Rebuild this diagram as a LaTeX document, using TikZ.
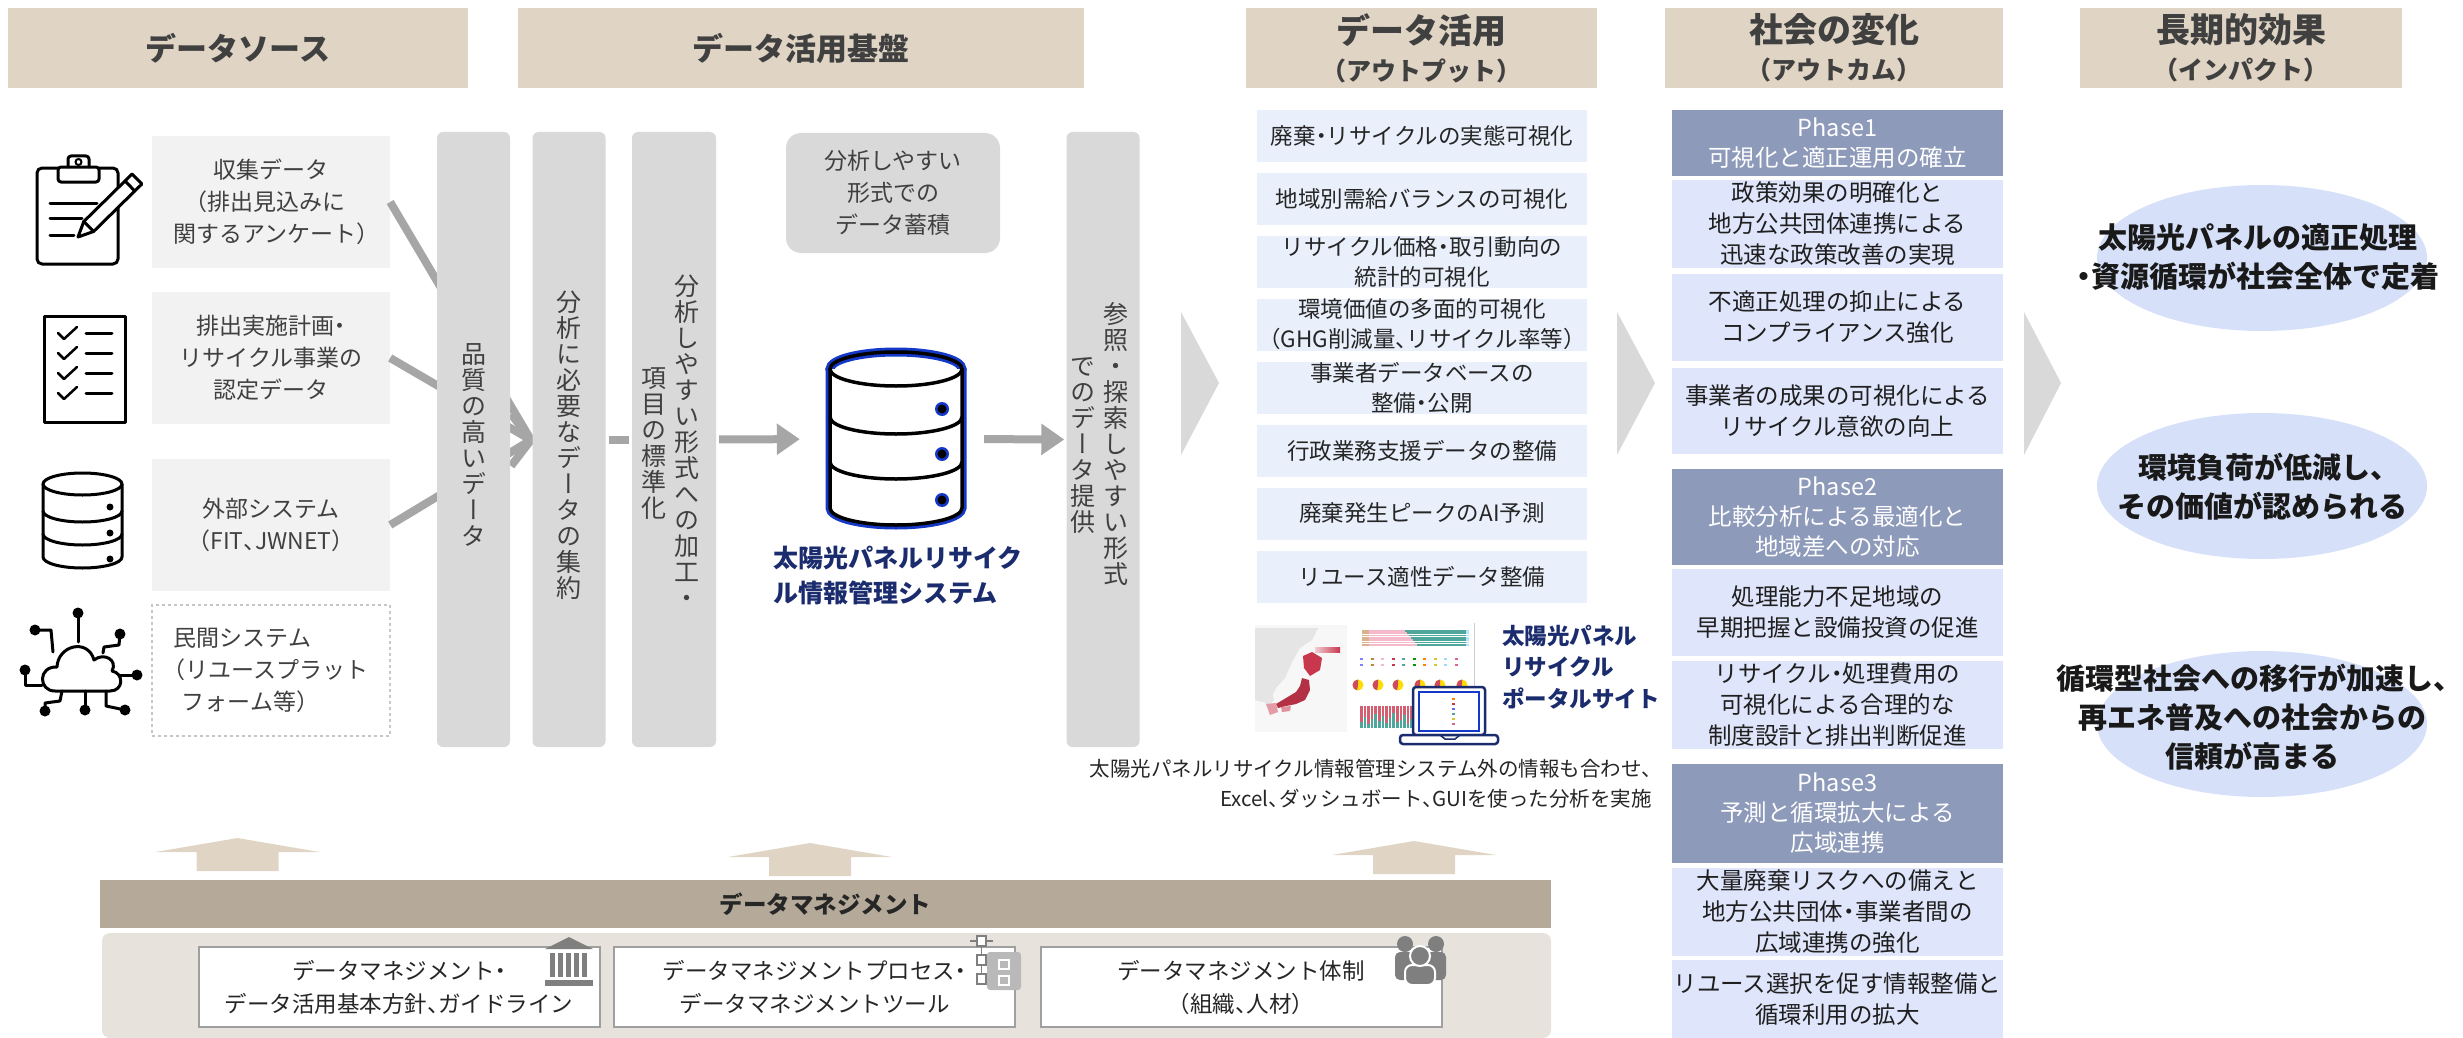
\documentclass[tikz,border=0pt]{standalone}
\usepackage{fontspec}
\usepackage{tikz}
\usetikzlibrary{arrows.meta,shapes.geometric}
\setmainfont[RawFeature=+halt]{Noto Sans CJK JP}
\newfontfamily\tatefont[RawFeature=+vert]{Noto Sans CJK JP}

\definecolor{hdbeige}{HTML}{E0D5C4}
\definecolor{txtgray}{HTML}{404040}
\definecolor{srcgray}{HTML}{F2F2F2}
\definecolor{bargray}{HTML}{D9D9D9}
\definecolor{linegray}{HTML}{A6A6A6}
\definecolor{outblue}{HTML}{E9EFFB}
\definecolor{phasehd}{HTML}{8E9ABA}
\definecolor{phasebd}{HTML}{DFE5FA}
\definecolor{impblue}{HTML}{D6E0F8}
\definecolor{navy}{HTML}{1B2C6E}
\definecolor{dbblue}{HTML}{1438C8}
\definecolor{mgbar}{HTML}{B5AA99}
\definecolor{mgpanel}{HTML}{E7E3DC}
\definecolor{icongray}{HTML}{7F7F7F}
\definecolor{jpred}{HTML}{C8374D}
\definecolor{pinkbar}{HTML}{F4BACB}
\definecolor{tealbar}{HTML}{4FA69A}

% stack the characters of a word one above the other (tategaki)
\makeatletter
\newcommand\tate[1]{\tate@first#1\@nil}
\def\tate@first#1{#1\tate@rest}
\def\tate@rest#1{\ifx#1\@nil\else\\#1\expandafter\tate@rest\fi}
\makeatother

\begin{document}
\begin{tikzpicture}[x=1pt, y=-1pt,
	header/.style={fill=hdbeige, text=txtgray, minimum height=80pt, inner sep=0pt, align=center, font=\bfseries\fontsize{31}{37}\selectfont},
	srcbox/.style={fill=srcgray, text=txtgray, minimum width=238pt, inner sep=0pt, align=center, font=\fontsize{23}{32}\selectfont},
	databar/.style={fill=bargray, rounded corners=6pt, minimum width=73pt, minimum height=615pt, inner sep=0pt},
	tatetext/.style={text=txtgray, inner sep=0pt, align=center, font=\tatefont\fontsize{25}{26}\selectfont},
	storebox/.style={fill=bargray, rounded corners=15pt, minimum width=214pt, minimum height=120pt, inner sep=0pt, text=txtgray, align=center, font=\fontsize{23}{32}\selectfont},
	flow/.style={draw=linegray, line width=8pt},
	flowarrow/.style={flow, -{Triangle[length=23pt,width=30pt]}},
	chevron/.style={fill=bargray},
	outbox/.style={fill=outblue, minimum width=330pt, minimum height=52pt, inner sep=0pt, align=center, text=black!85, font=\fontsize{22.5}{30}\selectfont},
	phasehead/.style={fill=phasehd, text=white, minimum width=331pt, inner sep=0pt, align=center, font=\fontsize{23.5}{30}\selectfont},
	phasebody/.style={fill=phasebd, text=black!88, minimum width=331pt, inner sep=0pt, align=center, font=\fontsize{23.5}{31}\selectfont},
	impact/.style={ellipse, fill=impblue, minimum width=330pt, minimum height=146pt, inner sep=0pt},
	impacttext/.style={inner sep=0pt, align=center, text=black!90, font=\bfseries\fontsize{29}{39}\selectfont},
	mgbox/.style={draw=gray!75, line width=2pt, fill=white, minimum width=401pt, minimum height=80pt, inner sep=0pt, align=center, text=black!85, font=\fontsize{22.5}{33}\selectfont},
	iconline/.style={draw=black, line width=3pt, line join=round, line cap=round},
	]
	\useasboundingbox (0,0) rectangle (2463,1038);

	% column headers
	\node[header, minimum width=460pt] (hd1) at (238,48) {データソース};
	\node[header, minimum width=566pt] (hd2) at (801,48) {データ活用基盤};
	\node[header, minimum width=351pt] (hd3) at (1421.5,48) {{\fontsize{34}{38}\selectfont データ活用}\\{\fontsize{25}{28}\selectfont （アウトプット）}};
	\node[header, minimum width=338pt] (hd4) at (1834,48) {{\fontsize{34}{38}\selectfont 社会の変化}\\{\fontsize{25}{28}\selectfont （アウトカム）}};
	\node[header, minimum width=322pt] (hd5) at (2241,48) {{\fontsize{34}{38}\selectfont 長期的効果}\\{\fontsize{25}{28}\selectfont （インパクト）}};

	% data sources
	\node[srcbox, minimum height=132pt] (src1) at (271,202) {収集データ\\（排出見込みに\\関するアンケート）};
	\node[srcbox, minimum height=132pt] (src2) at (271,358) {排出実施計画・\\リサイクル事業の\\認定データ};
	\node[srcbox, minimum height=132pt] (src3) at (271,525) {外部システム\\（FIT、JWNET）};
	\node[srcbox, minimum height=131pt, fill=white, draw=gray!45, dashed, line width=2pt, align=left] (src4) at (271,670.5) {民間システム\\（リユースプラット\\\hspace{8pt}フォーム等）};

	% clipboard
	\draw[iconline, rounded corners=5pt] (58,168) -- (37,168) -- (37,264) -- (118,264) -- (118,168) -- (99,168);
	\draw[iconline, rounded corners=3pt] (58,182) rectangle (99,167);
	\draw[iconline, rounded corners=3pt] (68,167) -- (68,156) -- (89,156) -- (89,167);
	\draw[iconline, line width=2pt] (78.5,162) circle (3);
	\draw[iconline] (50,203) -- (97,203);
	\draw[iconline] (50,218) -- (82,218);
	\draw[iconline] (50,235) -- (74,235);
	\draw[iconline, fill=white] (78,237) -- (93.6,231.5) -- (141.9,184) -- (132.1,174) -- (83.8,221.5) -- cycle;
	\draw[iconline] (93.6,231.5) -- (83.8,221.5);
	\draw[iconline] (134.8,191) -- (125,181);
	% checklist
	\draw[iconline] (44,316) rectangle (125,422);
	\foreach \yy in {333,353,373,393} {
		\draw[iconline, line width=2.5pt] (58,\yy) -- (64,\yy+6) -- (77,\yy-6);
		\draw[iconline] (86,\yy) -- (112,\yy);
	}
	% database
	\draw[iconline] (82.5,484) ellipse [x radius=39.5, y radius=11];
	\draw[iconline] (43,484) -- (43,557) arc [start angle=180, end angle=0, x radius=39.5, y radius=11] -- (122,484);
	\draw[iconline] (43,511) arc [start angle=180, end angle=0, x radius=39.5, y radius=11];
	\draw[iconline] (43,534) arc [start angle=180, end angle=0, x radius=39.5, y radius=11];
	\foreach \yy in {507,533,559} \fill (110,\yy) circle (3.5);
	% cloud network
	\draw[iconline, fill=white] (55,691) .. controls (38,691) and (38,666) .. (57,667) .. controls (58,645) and (88,638) .. (94,660) .. controls (104,652) and (118,660) .. (112,671) .. controls (124,673) and (124,691) .. (110,691) -- cycle;
	\draw[iconline] (78,613) -- (78,642);
	\draw[iconline] (35,630) -- (51,630) -- (53,652);
	\draw[iconline] (120,634) -- (119,645) -- (104,647) -- (103,653);
	\draw[iconline] (25,670) -- (25,685) -- (42,685);
	\draw[iconline] (120,675) -- (137,675);
	\draw[iconline] (45,711) -- (45,703) -- (60,701) -- (62,691);
	\draw[iconline] (85,691) -- (85,710);
	\draw[iconline] (106,691) -- (106,706) -- (125,710);
	\foreach \p in {(78,613),(35,630),(120,634),(25,670),(137,675),(45,711),(85,710),(125,710)}
		\fill \p circle (5.5);

	% sources merge into one stream
	\coordinate (merge) at (531,440);
	\draw[flow] (src1.east) -- (merge);
	\draw[flow] (src2.east) -- (merge);
	\draw[flow] (src3.east) -- (merge);
	\draw[flow, line join=miter] (merge) ++(-20,-26) -- (merge) -- ++(-20,26);

	% data platform
	\node[databar] (bar1) at (473.5,439.5) {};
	\node[databar] (bar2) at (569,439.5) {};
	\node[databar, minimum width=84pt] (bar3) at (674,439.5) {};
	\node[databar] (bar4) at (1103,439.5) {};
	\node[tatetext] (t1) at (473.5,445) {\tate{品質の高いデータ}};
	\node[tatetext] (t2) at (569,445) {\tate{分析に必要なデータの集約}};
	\node[tatetext] (t3a) at (687,441) {\tate{分析しやすい形式への加工・}};
	\node[tatetext] (t3b) at (654,444) {\tate{項目の標準化}};
	\node[tatetext] (t4a) at (1116,444) {\tate{参照・探索しやすい形式}};
	\node[tatetext] (t4b) at (1083,446) {\tate{でのデータ提供}};
	\node[storebox] (store) at (893,193) {分析しやすい\\形式での\\データ蓄積};

	% management system (database icon)
	\node[minimum width=132pt, minimum height=176pt, inner sep=0pt] (db) at (896,439) {};
	\foreach \c/\w in {dbblue/9, black/3.5} {
		\draw[draw=\c, line width=\w pt, fill=white] (830,369) -- (830,508) arc [start angle=180, end angle=0, x radius=66, y radius=17] -- (962,369);
		\draw[draw=\c, line width=\w pt] (896,369) ellipse [x radius=66, y radius=17];
		\draw[draw=\c, line width=\w pt] (830,417) arc [start angle=180, end angle=0, x radius=66, y radius=17];
		\draw[draw=\c, line width=\w pt] (830,462) arc [start angle=180, end angle=0, x radius=66, y radius=17];
	}
	\foreach \yy in {409,454,500} {
		\fill[dbblue] (942,\yy) circle (7);
		\fill[black] (942,\yy) circle (4.5);
	}
	\node[inner sep=0pt, align=left, text=navy, font=\bfseries\fontsize{25}{35}\selectfont] (dbname) at (898,576) {太陽光パネルリサイク\\ル情報管理システム};

	\draw[flow, shorten <=3pt, shorten >=3pt] (bar2.east) -- (bar3.west);
	\draw[flowarrow, shorten <=3pt, shorten >=30pt] (bar3.east) -- (db.west);
	\draw[flowarrow, shorten <=22pt, shorten >=2pt] (db.east) -- (bar4.west);

	% chevrons between stages
	\fill[chevron] (1181,312) -- (1219,383) -- (1181,455) -- cycle;
	\fill[chevron] (1617,312) -- (1655,383) -- (1617,455) -- cycle;
	\fill[chevron] (2024,312) -- (2061,383) -- (2024,455) -- cycle;

	% outputs
	\node[outbox] (out1) at (1422,136) {廃棄・リサイクルの実態可視化};
	\node[outbox] (out2) at (1422,198.5) {地域別需給バランスの可視化};
	\node[outbox] (out3) at (1422,261.5) {リサイクル価格・取引動向の\\統計的可視化};
	\node[outbox] (out4) at (1422,324.5) {環境価値の多面的可視化\\（GHG削減量、リサイクル率等）};
	\node[outbox] (out5) at (1422,387.5) {事業者データベースの\\整備・公開};
	\node[outbox] (out6) at (1422,451) {行政業務支援データの整備};
	\node[outbox] (out7) at (1422,513.5) {廃棄発生ピークのAI予測};
	\node[outbox] (out8) at (1422,576.5) {リユース適性データ整備};

	% portal screenshot: map
	\fill[gray!6] (1255,625) rectangle (1347,732);
	\fill[gray!20] (1255,628) -- (1318,628) -- (1312,640) -- (1300,648) -- (1292,662) -- (1285,678) -- (1276,688) -- (1270,700) -- (1262,702) -- (1255,700) -- cycle;
	\fill[gray!20] (1262,690) -- (1270,688) -- (1274,700) -- (1268,706) -- (1262,700) -- cycle;
	\fill[jpred] (1303,656) -- (1312,652) -- (1322,658) -- (1320,670) -- (1310,676) -- (1304,668) -- cycle;
	\fill[jpred!90!black] (1302,678) -- (1309,680) -- (1310,690) -- (1305,700) -- (1296,704) -- (1286,706) -- (1278,708) -- (1276,704) -- (1286,698) -- (1296,692) -- (1300,686) -- cycle;
	\fill[jpred!50] (1266,704) -- (1276,703) -- (1278,712) -- (1270,715) -- cycle;
	\fill[jpred!55] (1281,707) -- (1291,706) -- (1290,711) -- (1282,712) -- cycle;
	\shade[left color=jpred!25, right color=jpred] (1315,647) rectangle (1340,652);
	% portal screenshot: charts
	\draw[gray!40, line width=0.6pt] (1474,623) -- (1474,735);
	\foreach \i in {0,...,6} {
		\fill[brown!60] (1362,630+2.3*\i) rectangle +(7,1.7);
		\fill[pinkbar] (1369,630+2.3*\i) rectangle (1405+2*\i,631.7+2.3*\i);
		\fill[tealbar] (1405+2*\i,630+2.3*\i) rectangle (1466,631.7+2.3*\i);
		\fill[cyan!30] (1466,630+2.3*\i) rectangle (1469,631.7+2.3*\i);
	}
	\foreach \i/\c in {0/blue!50, 1/brown, 2/pinkbar, 3/jpred, 4/tealbar, 5/green!60!black, 6/orange, 7/yellow!80!black, 8/cyan!40, 9/purple!60} {
		\fill[\c] (1360+10.5*\i,658) rectangle +(3,2);
		\fill[\c] (1360+10.5*\i,664) rectangle +(3,2);
	}
	\foreach \cx in {1358,1378,1398,1420,1440,1462} {
		\fill[yellow!80!orange] (\cx,685) circle (5.5);
		\fill[jpred!90] (\cx,685) -- ++(0,-5.5) arc [start angle=270, end angle=100, radius=5.5] -- cycle;
	}
	\foreach \i/\h in {0/6, 1/11, 2/4, 3/9, 4/14, 5/7, 6/12, 7/5, 8/10, 9/15, 10/6, 11/8, 12/13, 13/4, 14/9, 15/11, 16/5, 17/8} {
		\fill[jpred!80] (1360+3.6*\i,706) rectangle +(2.6,22);
		\fill[tealbar] (1360+3.6*\i,728) rectangle +(2.6,-\h);
	}
	% laptop
	\fill[white] (1413,687) rectangle (1485,735);
	\draw[navy, line width=2.5pt, rounded corners=3pt] (1413,687) rectangle (1485,735);
	\draw[dbblue, line width=1.5pt] (1419,692) rectangle (1479,731);
	\foreach \i/\c in {0/orange, 1/jpred, 2/blue!60, 3/tealbar, 4/yellow!80!black, 5/purple!60} \fill[\c] (1452,698+5*\i) rectangle +(3,2);
	\draw[navy, line width=2.5pt, fill=white, rounded corners=3pt] (1400,735) rectangle (1498,744);
	\draw[navy, line width=1.5pt] (1440,735) -- (1445,739) -- (1455,739) -- (1460,735);
	\node[anchor=west, inner sep=0pt, align=left, text=navy, font=\bfseries\fontsize{22.5}{31.5}\selectfont] (portal) at (1502,667) {太陽光パネル\\リサイクル\\ポータルサイト};
	\node[anchor=north east, inner sep=0pt, align=right, text=black!85, font=\fontsize{20.5}{30}\selectfont] (note) at (1652,759) {太陽光パネルリサイクル情報管理システム外の情報も合わせ、\\Excel、ダッシュボート、GUIを使った分析を実施};

	% outcomes by phase
	\node[phasehead, minimum height=66pt] (p1h) at (1837.5,143) {Phase1\\可視化と適正運用の確立};
	\node[phasebody, minimum height=88pt] (p1a) at (1837.5,224) {政策効果の明確化と\\地方公共団体連携による\\迅速な政策改善の実現};
	\node[phasebody, minimum height=87pt] (p1b) at (1837.5,317.5) {不適正処理の抑止による\\コンプライアンス強化};
	\node[phasebody, minimum height=86pt] (p1c) at (1837.5,411) {事業者の成果の可視化による\\リサイクル意欲の向上};
	\node[phasehead, minimum height=96pt] (p2h) at (1837.5,517) {Phase2\\比較分析による最適化と\\地域差への対応};
	\node[phasebody, minimum height=87pt] (p2a) at (1837.5,612.5) {処理能力不足地域の\\早期把握と設備投資の促進};
	\node[phasebody, minimum height=88pt] (p2b) at (1837.5,705) {リサイクル・処理費用の\\可視化による合理的な\\制度設計と排出判断促進};
	\node[phasehead, minimum height=99pt] (p3h) at (1837.5,813.5) {Phase3\\予測と循環拡大による\\広域連携};
	\node[phasebody, minimum height=88pt] (p3a) at (1837.5,912) {大量廃棄リスクへの備えと\\地方公共団体・事業者間の\\広域連携の強化};
	\node[phasebody, minimum height=78pt] (p3b) at (1837.5,999) {リユース選択を促す情報整備と\\循環利用の拡大};

	% long-term impacts
	\node[impact] (imp1) at (2262,258) {};
	\node[impact] (imp2) at (2262,486) {};
	\node[impact] (imp3) at (2262,724) {};
	\node[impacttext] (imp1t) at (2258,257) {太陽光パネルの適正処理\\・資源循環が社会全体で定着};
	\node[impacttext] (imp2t) at (2262,487) {環境負荷が低減し、\\その価値が認められる};
	\node[impacttext] (imp3t) at (2252,717) {循環型社会への移行が加速し、\\再エネ普及への社会からの\\信頼が高まる};

	% data management foundation
	\foreach \cx/\ty in {237.5/838, 810/843, 1414/841}
		\fill[hdbeige] (\cx-82,\ty+14) -- (\cx,\ty) -- (\cx+82,\ty+14) -- (\cx+41,\ty+14) -- (\cx+41,\ty+33) -- (\cx-41,\ty+33) -- (\cx-41,\ty+14) -- cycle;
	\node[fill=mgbar, minimum width=1451pt, minimum height=48pt, inner sep=0pt, text=black!85, font=\bfseries\fontsize{23.5}{28}\selectfont] (mgmt) at (825.5,904) {データマネジメント};
	\node[fill=mgpanel, rounded corners=8pt, minimum width=1449pt, minimum height=105pt, inner sep=0pt] (mgpanel) at (826.5,985.5) {};
	\node[mgbox] (mg1) at (399,987) {データマネジメント・\\データ活用基本方針、ガイドライン};
	\node[mgbox] (mg2) at (814.5,987) {データマネジメントプロセス・\\データマネジメントツール};
	\node[mgbox] (mg3) at (1241,987) {データマネジメント体制\\（組織、人材）};

	% icons on the management boxes
	\fill[icongray] (545,949) -- (569,937) -- (593,949) -- cycle;
	\foreach \k in {0,...,4} \fill[icongray] (550+8*\k,953) rectangle +(5,24);
	\fill[icongray] (545,980) rectangle (593,986);
	\fill[gray!55, rounded corners=3pt] (987,952) rectangle (1021,990);
	\foreach \yy in {936,955,974} \draw[icongray, line width=1.5pt, fill=white] (977,\yy) rectangle +(9,10);
	\foreach \yy in {960,976} \draw[white, line width=1.5pt] (999,\yy) rectangle +(10,9);
	\draw[icongray, line width=1.5pt] (970,941) -- (977,941) (986,941) -- (993,941) (981.5,946) -- (981.5,955) (981.5,965) -- (981.5,974);
	\fill[icongray] (1405,944) circle (8);
	\fill[icongray] (1436,944) circle (8);
	\fill[icongray, rounded corners=5pt] (1395,952) rectangle (1415,980);
	\fill[icongray, rounded corners=5pt] (1426,952) rectangle (1446,980);
	\draw[white, line width=2pt, fill=icongray, rounded corners=7pt] (1405,985) rectangle (1435,965);
	\draw[white, line width=2pt, fill=icongray] (1420,956) circle (10);
\end{tikzpicture}
\end{document}
